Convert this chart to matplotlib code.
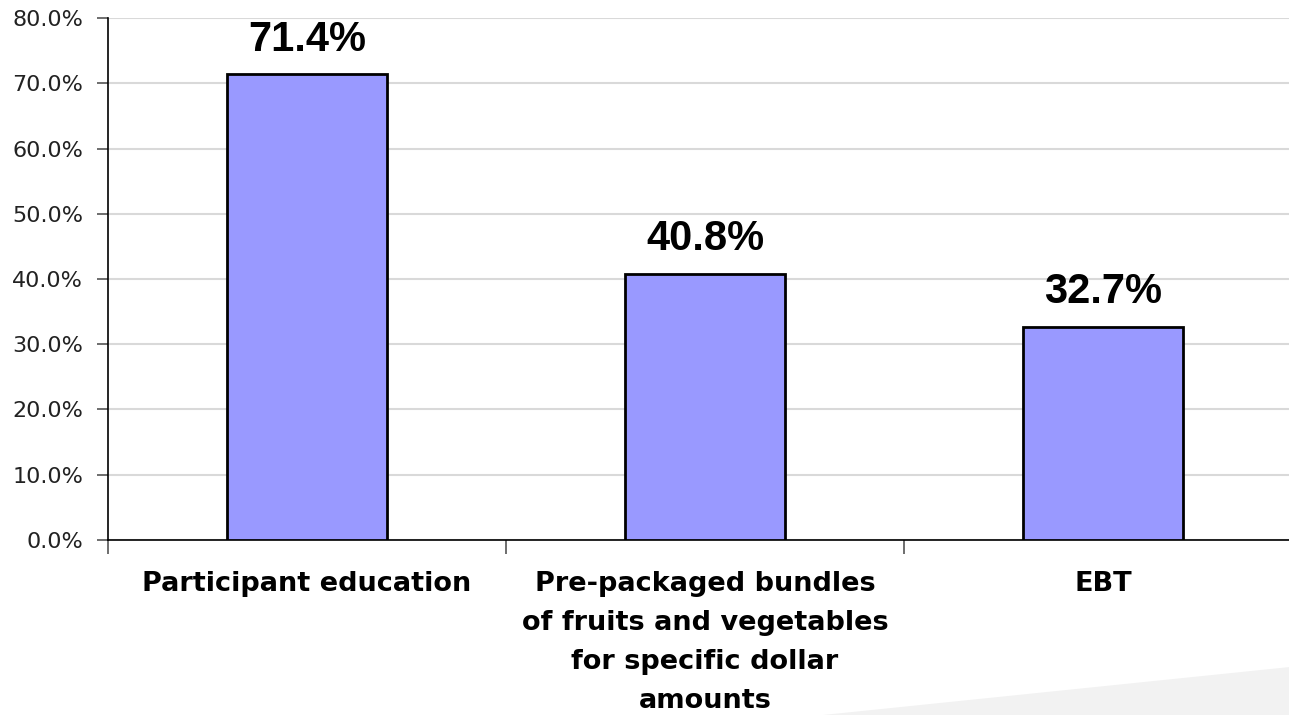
#!/usr/bin/env python3
"""
Bar chart: share of respondents by program feature.
Writes out.png.
"""
import matplotlib
matplotlib.use("Agg")
import matplotlib.pyplot as plt
from matplotlib.patches import Polygon
from matplotlib.ticker import PercentFormatter

categories = [
    "Participant education",
    "Pre-packaged bundles\nof fruits and vegetables\nfor specific dollar\namounts",
    "EBT",
]
values = [71.4, 40.8, 32.7]
y_ticks = [0, 10, 20, 30, 40, 50, 60, 70, 80]

fig = plt.figure(figsize=(12.89, 7.15), dpi=100)

# light grey swoosh in the lower right corner
swoosh = Polygon([(0.6385, 0.0), (1.0, 0.067), (1.0, 0.0)],
                 closed=True, transform=fig.transFigure, facecolor="#f2f2f2",
                 edgecolor="none", zorder=0)
fig.patches.append(swoosh)

ax = fig.add_axes([0.0838, 0.2448, 0.9263, 0.730])
ax.set_facecolor("none")

x = list(range(len(categories)))
ax.bar(x, values, width=0.4, color="#9999ff", edgecolor="black", linewidth=2.0, zorder=3)

for xi, v in zip(x, values):
    ax.text(xi, v + 2.2, f"{v:.1f}%", ha="center", va="bottom",
            fontsize=30, fontweight="bold", family="Liberation Sans", zorder=4)

ax.set_ylim(0, 80)
ax.set_xlim(-0.5, 2.5)
ax.set_yticks(y_ticks)
ax.yaxis.set_major_formatter(PercentFormatter(decimals=1))
ax.grid(axis="y", color="#d9d9d9", linewidth=1.5, zorder=0)
ax.set_axisbelow(True)

# category boundaries get the tick marks, centres get the labels
ax.set_xticks([-0.5, 0.5, 1.5, 2.5])
ax.set_xticklabels([])
ax.set_xticks(x, categories, minor=True)
ax.tick_params(axis="x", which="major", length=10, width=1.2, color="#555555")
ax.tick_params(axis="x", which="minor", length=0, pad=22)
for lbl in ax.get_xticklabels(minor=True):
    lbl.set_fontsize(19.5)
    lbl.set_fontweight("bold")
    lbl.set_linespacing(1.65)
    lbl.set_verticalalignment("top")

ax.tick_params(axis="y", length=8, width=1.2, color="#555555", pad=10, labelsize=16)
for lbl in ax.get_yticklabels():
    lbl.set_color("#222222")

for side in ("top", "right"):
    ax.spines[side].set_visible(False)
ax.spines["left"].set_linewidth(1.2)
ax.spines["bottom"].set_linewidth(1.2)

fig.savefig("out.png", dpi=100)
